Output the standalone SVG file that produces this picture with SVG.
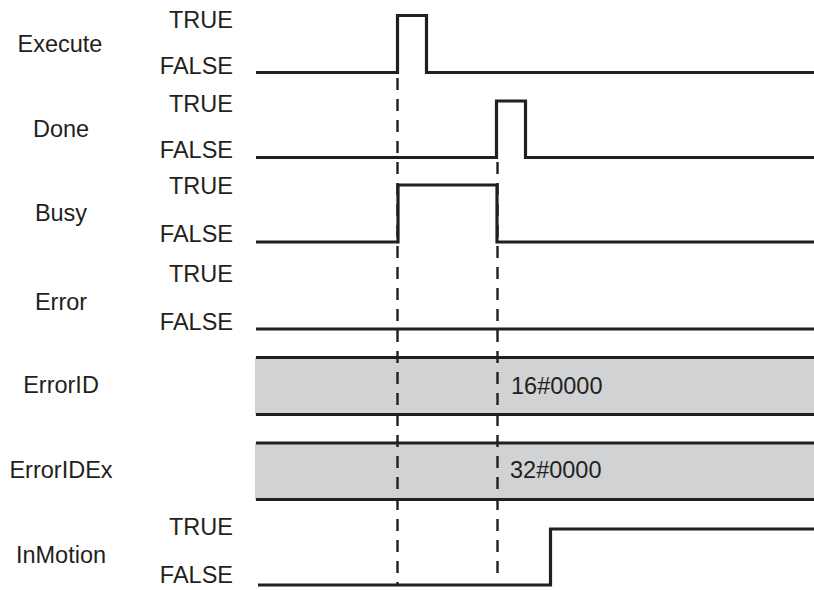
<svg xmlns="http://www.w3.org/2000/svg" width="814" height="590" viewBox="0 0 814 590">
<style>
text{font-family:"Liberation Sans",Arial,sans-serif;font-size:23.5px;fill:#231f20}
.lbl{text-anchor:middle}
.st{text-anchor:end}
.sig{fill:none;stroke:#231f20;stroke-width:3.2;stroke-linejoin:miter}
.dash{fill:none;stroke:#231f20;stroke-width:2.4;stroke-dasharray:12 9}
.band{fill:#d1d2d4;stroke:none}
</style>
<rect width="814" height="590" fill="#fff"/>
<g id="bands">
<rect class="band" x="255" y="357" width="559" height="58"/>
<rect class="band" x="255" y="443" width="559" height="57"/>
</g>
<g id="connectors">
<path class="dash" d="M397.5 78 V585"/>
<path class="dash" d="M497.5 162 V576"/>
</g>
<g id="execute">
<text class="lbl" x="60" y="52">Execute</text>
<text class="st" x="233" y="28">TRUE</text>
<text class="st" x="233" y="74">FALSE</text>
<path class="sig" d="M256 72.5 H397.5 V15.5 H426.5 V72.5 H814"/>
</g>
<g id="done">
<text class="lbl" x="61" y="137">Done</text>
<text class="st" x="233" y="112">TRUE</text>
<text class="st" x="233" y="158">FALSE</text>
<path class="sig" d="M256 157.5 H496.5 V101 H525.5 V157.5 H814"/>
</g>
<g id="busy">
<text class="lbl" x="61" y="221">Busy</text>
<text class="st" x="233" y="194">TRUE</text>
<text class="st" x="233" y="242">FALSE</text>
<path class="sig" d="M256 242 H398 V185 H497 V242 H814"/>
</g>
<g id="error">
<text class="lbl" x="61" y="310">Error</text>
<text class="st" x="233" y="282">TRUE</text>
<text class="st" x="233" y="330">FALSE</text>
<path class="sig" d="M256 329 H814"/>
</g>
<g id="errorid">
<text class="lbl" x="61" y="393">ErrorID</text>
<path class="sig" d="M256 357.5 H814 M256 414.5 H814"/>
<text x="511" y="394">16#0000</text>
</g>
<g id="erroridex">
<text class="lbl" x="61" y="478">ErrorIDEx</text>
<path class="sig" d="M256 443 H814 M256 499.5 H814"/>
<text x="510" y="478">32#0000</text>
</g>
<g id="inmotion">
<text class="lbl" x="61" y="563">InMotion</text>
<text class="st" x="233" y="535">TRUE</text>
<text class="st" x="233" y="583">FALSE</text>
<path class="sig" d="M258 585 H550.5 V529 H814"/>
</g>
</svg>
